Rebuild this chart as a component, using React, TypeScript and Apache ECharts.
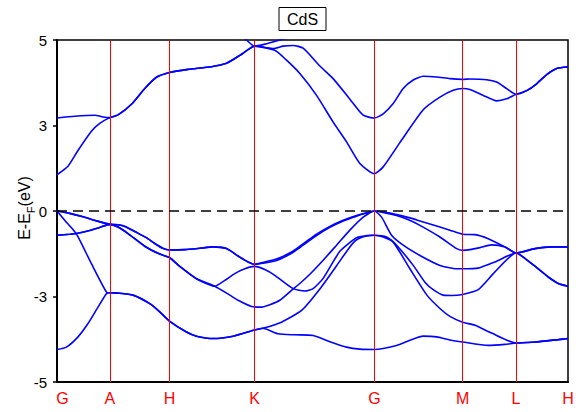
import React, { useEffect, useRef } from "react";
import * as echarts from "echarts";

// High-symmetry path and tick labels
const highSymK = [0, 0.527, 1.124, 1.974, 3.172, 4.054, 4.587, 5.107];
const highSymLabels = ["G", "A", "H", "K", "G", "M", "L", "H"];
const yTickValues = [-5, -2.5, 0, 2.5, 5];
const yTickLabels = ["-5", "-3", "0", "3", "5"];

// Valence bands, [k, E - E_F (eV)]
const valence1 = [
  [0, 0], [0.127, -0.07], [0.26, -0.17], [0.397, -0.29], [0.527, -0.39],
  [0.61, -0.4], [0.687, -0.46], [0.777, -0.6], [0.894, -0.78], [0.977, -0.95], [1.057, -1.09], [1.124, -1.14],
  [1.277, -1.13], [1.427, -1.09], [1.56, -1.05], [1.694, -1.1], [1.827, -1.35], [1.91, -1.49], [1.974, -1.56],
  [2.077, -1.49], [2.177, -1.42], [2.227, -1.37], [2.344, -1.2], [2.427, -1.03], [2.594, -0.68], [2.727, -0.45],
  [2.86, -0.27], [2.994, -0.13], [3.094, -0.05], [3.172, 0],
  [3.327, -0.06], [3.46, -0.15], [3.594, -0.26], [3.727, -0.38], [3.927, -0.56], [4.054, -0.68],
  [4.177, -0.69], [4.31, -0.81], [4.477, -1.05], [4.587, -1.23],
  [4.777, -1.1], [4.944, -1.05], [5.107, -1.05],
];

const valence2 = [
  [0, 0], [0.127, -0.07], [0.26, -0.17], [0.397, -0.29], [0.527, -0.39],
  [0.61, -0.4], [0.687, -0.46], [0.777, -0.6], [0.894, -0.78], [0.977, -0.95], [1.057, -1.09], [1.124, -1.14],
  [1.277, -1.13], [1.427, -1.09], [1.56, -1.05], [1.694, -1.1], [1.827, -1.35], [1.91, -1.49], [1.974, -1.56],
  [2.077, -1.52], [2.177, -1.46], [2.227, -1.41], [2.344, -1.24], [2.427, -1.07], [2.594, -0.72], [2.727, -0.48],
  [2.86, -0.29], [2.994, -0.15], [3.094, -0.06], [3.172, 0],
  [3.257, -0.04], [3.394, -0.13], [3.507, -0.25], [3.627, -0.42], [3.827, -0.76], [3.994, -1.1], [4.054, -1.15],
  [4.127, -1.13], [4.227, -1.07], [4.344, -0.99], [4.477, -1.05], [4.587, -1.23],
  [4.777, -1.1], [4.944, -1.05], [5.107, -1.05],
];

const valence3 = [
  [0, -0.71], [0.127, -0.68], [0.194, -0.66], [0.327, -0.57], [0.427, -0.48], [0.527, -0.39],
  [0.61, -0.47], [0.71, -0.66], [0.877, -1.03], [1.027, -1.26], [1.124, -1.36],
  [1.227, -1.62], [1.394, -1.98], [1.577, -2.2], [1.727, -2.46], [1.81, -2.61], [1.944, -2.79], [2.044, -2.81],
  [2.127, -2.74], [2.227, -2.61], [2.344, -2.32], [2.427, -2.12], [2.527, -1.85], [2.66, -1.44], [2.794, -1.0],
  [2.927, -0.56], [3.06, -0.18], [3.172, 0],
  [3.244, -0.18], [3.344, -0.71], [3.46, -1.0], [3.627, -1.3], [3.827, -1.59], [3.994, -1.69], [4.054, -1.69],
  [4.21, -1.67], [4.377, -1.49], [4.587, -1.23],
  [4.744, -1.54], [4.91, -1.93], [5.01, -2.12], [5.107, -2.2],
];

const valence4 = [
  [0, -0.71], [0.127, -0.68], [0.194, -0.66], [0.327, -0.57], [0.427, -0.48], [0.527, -0.39],
  [0.61, -0.47], [0.71, -0.66], [0.877, -1.03], [1.027, -1.26], [1.124, -1.36],
  [1.227, -1.62], [1.394, -1.98], [1.577, -2.2], [1.677, -2.03], [1.777, -1.83], [1.877, -1.69], [1.974, -1.62],
  [2.077, -1.71], [2.177, -1.88], [2.36, -2.27], [2.477, -2.34], [2.56, -2.27], [2.66, -1.97], [2.827, -1.18],
  [2.994, -0.78], [3.094, -0.72], [3.172, -0.71],
  [3.294, -0.76], [3.394, -1.0], [3.56, -1.59], [3.677, -2.08], [3.76, -2.3], [3.86, -2.46], [3.947, -2.47], [4.054, -2.44],
  [4.21, -2.3], [4.377, -1.78], [4.587, -1.23],
  [4.744, -1.54], [4.91, -1.93], [5.01, -2.12], [5.107, -2.2],
];

const valence5 = [
  [0, 0], [0.077, -0.27], [0.147, -0.5], [0.204, -0.72], [0.344, -1.54], [0.494, -2.37], [0.527, -2.39],
  [0.61, -2.4], [0.76, -2.46], [0.927, -2.71], [1.027, -2.95], [1.124, -3.22],
  [1.294, -3.54], [1.394, -3.66], [1.56, -3.73], [1.76, -3.66], [1.974, -3.48], [2.057, -3.43],
  [2.244, -3.25], [2.447, -2.9], [2.627, -2.28], [2.794, -1.6], [2.927, -1.05], [2.994, -0.84], [3.094, -0.73], [3.172, -0.71],
  [3.26, -0.76], [3.36, -0.91], [3.527, -1.69], [3.697, -2.46], [3.827, -2.85], [3.927, -3.08], [4.054, -3.25],
  [4.177, -3.34], [4.344, -3.57], [4.587, -3.86],
  [4.777, -3.83], [5.01, -3.76], [5.107, -3.73],
];

const valence6 = [
  [0, -4.05], [0.094, -3.98], [0.21, -3.68], [0.31, -3.29], [0.41, -2.81], [0.494, -2.42], [0.527, -2.39],
  [0.61, -2.4], [0.76, -2.46], [0.927, -2.71], [1.027, -2.95], [1.124, -3.22],
  [1.294, -3.54], [1.394, -3.66], [1.56, -3.73], [1.76, -3.66], [1.974, -3.48], [2.057, -3.43],
  [2.21, -3.59], [2.377, -3.62], [2.56, -3.64], [2.727, -3.82], [2.894, -3.98], [3.027, -4.04], [3.172, -4.05],
  [3.394, -3.93], [3.527, -3.78], [3.66, -3.66], [3.794, -3.68], [3.927, -3.77], [4.054, -3.83],
  [4.31, -3.93], [4.477, -3.9], [4.587, -3.86],
  [4.777, -3.83], [5.01, -3.76], [5.107, -3.73],
];

// Conduction bands
const conduction1 = [
  [0, 1.06], [0.11, 1.31], [0.21, 1.77], [0.344, 2.33], [0.427, 2.56], [0.527, 2.73],
  [0.61, 2.81], [0.744, 3.12], [0.877, 3.58], [0.994, 3.91], [1.124, 4.05],
  [1.31, 4.14], [1.544, 4.22], [1.694, 4.32], [1.827, 4.55], [1.91, 4.72], [1.974, 4.82],
  [2.177, 4.7], [2.294, 4.41], [2.427, 4.02], [2.594, 3.38], [2.76, 2.6], [2.894, 2.02], [3.027, 1.39], [3.172, 1.09],
  [3.26, 1.29], [3.427, 2.0], [3.66, 2.96], [3.827, 3.33], [3.96, 3.53], [4.054, 3.58],
  [4.127, 3.55], [4.26, 3.38], [4.394, 3.22], [4.494, 3.28], [4.587, 3.41],
  [4.694, 3.52], [4.794, 3.72], [4.894, 3.99], [4.994, 4.17], [5.107, 4.22],
];

const conduction2 = [
  [0, 2.72], [0.177, 2.77], [0.377, 2.8], [0.46, 2.75], [0.527, 2.73],
  [0.61, 2.81], [0.744, 3.12], [0.877, 3.58], [0.994, 3.91], [1.124, 4.05],
  [1.31, 4.14], [1.544, 4.22], [1.694, 4.32], [1.827, 4.55], [1.91, 4.72], [1.974, 4.82],
  [2.077, 4.78], [2.16, 4.75], [2.26, 4.82], [2.36, 4.84], [2.46, 4.76], [2.627, 4.24], [2.76, 3.87],
  [2.927, 3.27], [3.06, 2.8], [3.172, 2.72],
  [3.26, 2.84], [3.36, 3.14], [3.46, 3.58], [3.56, 3.83], [3.66, 3.94], [3.794, 3.92], [3.927, 3.87], [4.054, 3.85],
  [4.127, 3.86], [4.294, 3.84], [4.394, 3.77], [4.494, 3.58], [4.587, 3.41],
  [4.694, 3.52], [4.794, 3.72], [4.894, 3.99], [4.994, 4.17], [5.107, 4.22],
];

const conduction3 = [
  [1.807, 5.22], [1.894, 5.0], [1.974, 4.82], [2.077, 4.88], [2.227, 5.0], [2.377, 5.1],
];

const bands = [
  valence1, valence2, valence3, valence4, valence5, valence6,
  conduction1, conduction2, conduction3,
];

const FONT = 'Arial, "Liberation Sans", Helvetica, sans-serif';

function buildOption(): any {
  const bandSeries = bands.map((data, i) => ({
    type: "line",
    name: "band" + i,
    data,
    showSymbol: false,
    symbol: "none",
    smooth: 0.2,
    clip: true,
    silent: true,
    z: 3,
    lineStyle: { color: "#0000ff", width: 1.6 },
  }));

  const guides = {
    type: "line",
    name: "guides",
    data: [[0, 0]],
    showSymbol: false,
    symbol: "none",
    silent: true,
    z: 2,
    lineStyle: { opacity: 0 },
    markLine: {
      silent: true,
      symbol: ["none", "none"],
      label: { show: false },
      animation: false,
      data: [
        ...highSymK.slice(1, -1).map((k) => ({
          xAxis: k,
          lineStyle: { color: "#ff0000", width: 1, type: "solid" },
        })),
        { yAxis: 0, lineStyle: { color: "#000000", width: 1.5, type: [10, 6] } },
      ],
    },
  };

  return {
    animation: false,
    backgroundColor: "#ffffff",
    grid: {
      left: 57,
      right: 8,
      top: 40,
      bottom: 30,
      show: true,
      borderColor: "#000000",
      borderWidth: 1.5,
      backgroundColor: "transparent",
      containLabel: false,
      outerBoundsMode: "none",
    },
    xAxis: {
      type: "value",
      min: 0,
      max: highSymK[highSymK.length - 1],
      axisLine: { show: true, onZero: false, lineStyle: { color: "#000", width: 2 } },
      axisTick: { show: false },
      splitLine: { show: false },
      axisLabel: {
        customValues: highSymK,
        margin: 8,
        color: "#ff0000",
        fontSize: 16,
        fontFamily: FONT,
        formatter: (value: number) => {
          const idx = highSymK.findIndex((k) => Math.abs(k - value) < 1e-6);
          if (idx < 0) return "";
          return idx === 0 ? `{first|${highSymLabels[idx]}}` : highSymLabels[idx];
        },
        rich: {
          first: { fontSize: 16, fontFamily: FONT, color: "#ff0000", padding: [0, 0, 0, 11] },
        },
      },
    },
    yAxis: {
      type: "value",
      min: -5,
      max: 5,
      interval: 2.5,
      name: "{n|E-E}{s|F}{n|(eV)}",
      nameLocation: "middle",
      nameRotate: 90,
      nameGap: 21,
      nameMoveOverlap: false,
      nameTextStyle: {
        padding: [0, 0, 0, 6],
        rich: {
          n: { fontSize: 16, fontFamily: FONT, color: "#000", lineHeight: 20, verticalAlign: "top" },
          s: { fontSize: 11, fontFamily: FONT, color: "#000", lineHeight: 11, padding: [9, 0, 0, 0], verticalAlign: "top" },
        },
      },
      axisLine: { show: true, onZero: false, lineStyle: { color: "#000", width: 2 } },
      axisTick: { show: true, inside: false, length: 4, lineStyle: { color: "#000", width: 1.5 } },
      splitLine: { show: false },
      axisLabel: {
        margin: 10,
        color: "#000",
        fontSize: 15,
        fontFamily: FONT,
        formatter: (value: number) => {
          const idx = yTickValues.findIndex((v) => Math.abs(v - value) < 1e-6);
          return idx < 0 ? "" : yTickLabels[idx];
        },
      },
    },
    graphic: [
      {
        type: "group",
        children: [
          {
            type: "rect",
            shape: { x: 279, y: 7.5, width: 47, height: 23 },
            style: { fill: "#ffffff", stroke: "#000000", lineWidth: 1 },
          },
          {
            type: "text",
            x: 302.5,
            y: 19.5,
            style: {
              text: "CdS",
              font: `16px ${FONT}`,
              fill: "#000",
              align: "center",
              verticalAlign: "middle",
              textAlign: "center",
              textVerticalAlign: "middle",
            },
          },
        ],
      },
    ],
    series: [guides, ...bandSeries],
  };
}

export default function App() {
  const ref = useRef<HTMLDivElement>(null);
  useEffect(() => {
    if (!ref.current) return;
    const chart = echarts.init(ref.current, null, { renderer: "svg" });
    chart.setOption(buildOption());
    return () => {
      chart.dispose();
    };
  }, []);
  return (
    <div
      ref={ref}
      style={{ position: "absolute", left: 0, top: 0, width: 576, height: 412, background: "#fff" }}
    />
  );
}
